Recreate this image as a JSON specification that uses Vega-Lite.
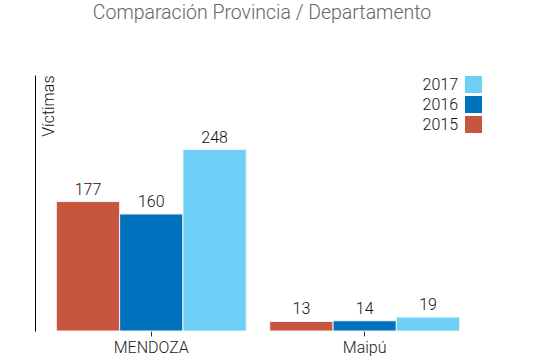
{
  "$schema": "https://vega.github.io/schema/vega-lite/v6.json",
  "width": 446,
  "height": 256,
  "autosize": "none",
  "padding": {"left": 35, "top": 75, "right": 55, "bottom": 33},
  "background": "white",
  "config": {"view": {"stroke": null}, "font": "Roboto"},
  "title": {
    "text": "Comparación Provincia / Departamento",
    "font": "Roboto Light, Roboto",
    "fontWeight": 300,
    "fontSize": 19.5,
    "color": "#666666",
    "anchor": "middle",
    "dx": 4,
    "offset": 52
  },
  "data": {
    "values": [
      {"lugar": "MENDOZA", "anio": "2015", "victimas": 177},
      {"lugar": "MENDOZA", "anio": "2016", "victimas": 160},
      {"lugar": "MENDOZA", "anio": "2017", "victimas": 248},
      {"lugar": "Maipú", "anio": "2015", "victimas": 13},
      {"lugar": "Maipú", "anio": "2016", "victimas": 14},
      {"lugar": "Maipú", "anio": "2017", "victimas": 19}
    ]
  },
  "encoding": {
    "x": {
      "field": "lugar",
      "type": "nominal",
      "sort": ["MENDOZA", "Maipú"],
      "scale": {"paddingInner": 0.11, "paddingOuter": 0.1},
      "axis": {
        "title": null,
        "domain": false,
        "labelAngle": 0,
        "labelFont": "Roboto",
        "labelFontWeight": 300,
        "labelFontSize": 16,
        "labelColor": "#222222",
        "labelPadding": 3,
        "tickColor": "#333333",
        "tickSize": 5
      }
    },
    "xOffset": {"field": "anio", "type": "nominal", "sort": ["2015", "2016", "2017"], "scale": {"paddingInner": 0, "paddingOuter": 0}},
    "y": {
      "field": "victimas",
      "type": "quantitative",
      "scale": {"domain": [0, 350], "nice": false},
      "axis": {
        "title": "Víctimas",
        "titleFont": "Roboto",
        "titleFontSize": 16,
        "titleFontWeight": 300,
        "titleColor": "#111111",
        "titleAngle": 270,
        "titleX": 18,
        "titleY": 0,
        "titleAlign": "right",
        "titleBaseline": "alphabetic",
        "domain": true,
        "domainColor": "#000000",
        "domainWidth": 1,
        "ticks": false,
        "labels": false,
        "grid": false
      }
    }
  },
  "layer": [
    {
      "mark": {"type": "bar", "stroke": "#f4f4f4", "strokeWidth": 1},
      "encoding": {
        "color": {
          "field": "anio",
          "type": "nominal",
          "sort": "descending",
          "scale": {"domain": ["2017", "2016", "2015"], "range": ["#6dcff6", "#0071bc", "#c8553d"]},
          "legend": {
            "title": null,
            "orient": "none",
            "legendX": 430,
            "legendY": 1,
            "padding": 0,
            "symbolType": "square",
            "symbolSize": 289,
            "symbolStrokeWidth": 0,
            "rowPadding": 3,
            "labelAlign": "right",
            "labelOffset": -24,
            "labelFont": "Roboto",
            "labelFontWeight": 300,
            "labelFontSize": 16,
            "labelColor": "#111111"
          }
        }
      }
    },
    {
      "mark": {"type": "text", "baseline": "bottom", "dy": -4, "font": "Roboto", "fontWeight": 300, "fontSize": 16, "color": "#111111"},
      "encoding": {"text": {"field": "victimas", "type": "quantitative"}}
    }
  ]
}
